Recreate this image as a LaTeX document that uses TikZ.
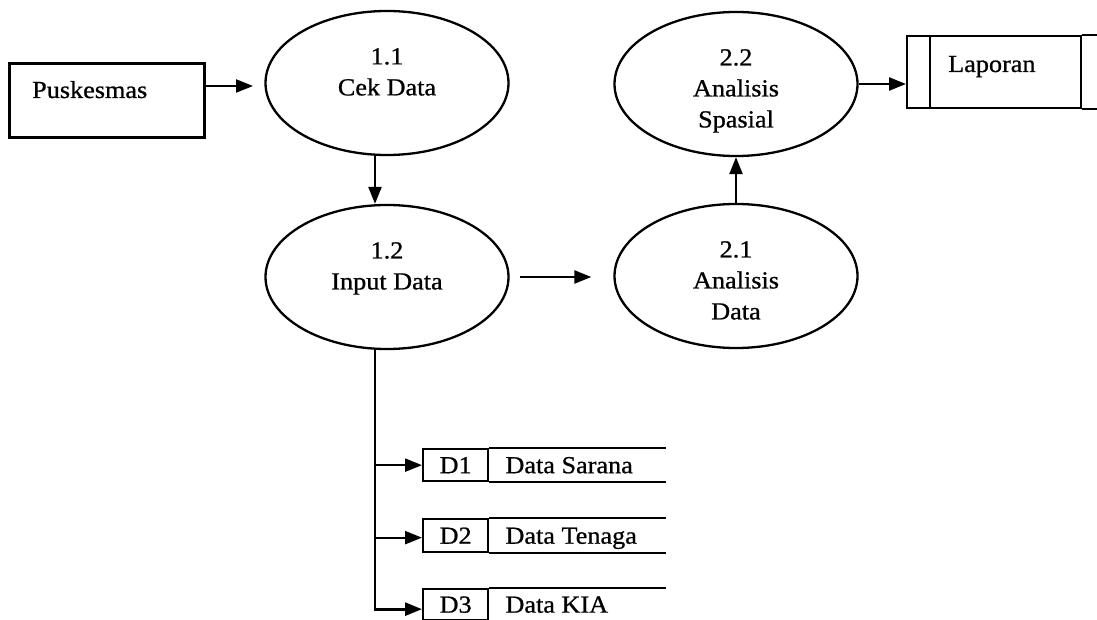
\documentclass[tikz,border=0pt]{standalone}
\usepackage{fontspec}
\setmainfont{Liberation Serif}[FakeStretch=1.07,FakeBold=0.8]
\usetikzlibrary{arrows.meta,shapes.geometric}

\begin{document}
\begin{tikzpicture}[x=1pt,y=-1pt,
  every node/.style={font=\fontsize{24.5}{31}\selectfont},
  proc/.style={draw, ellipse, line width=2.3pt, minimum width=243pt,
               minimum height=144pt, inner sep=0pt},
  ptext/.style={align=center, anchor=north, inner sep=0pt},
  plain/.style={anchor=base west, inner sep=0pt},
  flow/.style={line width=2.3pt, -{Triangle[length=17pt,width=13pt]}},
  extbox/.style={draw, line width=2.7pt, anchor=north west, inner sep=0pt},
  idcell/.style={draw, line width=2.3pt, anchor=north west, inner sep=0pt,
                 minimum width=65pt, minimum height=32pt},
  storeline/.style={line width=2.3pt}
]
\useasboundingbox (0,0) rectangle (1097,620);

% external entity
\node[extbox, minimum width=195pt, minimum height=74pt] (ext) at (8,62) {};
\node[plain] (extt) at (32,98) {Puskesmas};

% processes
\node[proc] (p11) at (387,83) {};
\node[ptext] (p11t) at ([yshift=35pt]p11.center) {1.1\\Cek Data};
\node[proc] (p12) at (387,277) {};
\node[ptext] (p12t) at ([yshift=35pt]p12.center) {1.2\\Input Data};
\node[proc] (p21) at (736,276) {};
\node[ptext] (p21t) at ([yshift=35pt]p21.center) {2.1\\Analisis\\Data};
\node[proc] (p22) at (736,84) {};
\node[ptext] (p22t) at ([yshift=35pt]p22.center) {2.2\\Analisis\\Spasial};

% output store
\node[draw, line width=2.3pt, anchor=north west, inner sep=0pt,
      minimum width=174pt, minimum height=72pt] (lap) at (906,35) {};
\draw[storeline] (lap.north east) -- ++(20,0);
\draw[storeline] (lap.south east) -- ++(20,0);
\draw[storeline] ([xshift=24pt]lap.north west) -- ([xshift=24pt]lap.south west);
\node[plain] (lapt) at (948,72) {Laporan};

% data stores
\node[idcell] (d1) at (422,448) {D1};
\node[plain] (d1n) at ([xshift=16pt]d1.base east) {Data Sarana};
\draw[storeline] (d1.north east) -- ++(177,0);
\draw[storeline] (d1.south east) -- ++(177,0);

\node[idcell, minimum height=33pt] (d2) at (422,518) {D2};
\node[plain] (d2n) at ([xshift=16pt]d2.base east) {Data Tenaga};
\draw[storeline] (d2.north east) -- ++(177,0);
\draw[storeline] (d2.south east) -- ++(177,0);

\node[idcell, minimum height=31pt] (d3) at (422,588) {D3};
\node[plain] (d3n) at ([xshift=16pt]d3.base east) {Data KIA};
\draw[storeline] (d3.north east) -- ++(177,0);
\draw[storeline] (d3.south east) -- ++(177,0);

% flows
\coordinate (a1) at (253,86);
\draw[flow] (ext.east |- a1) -- (a1);
\draw[flow] ([xshift=-12pt]p11.south) -- ([xshift=-12pt]p12.north);
\draw[flow] ([xshift=10pt]p12.east) -- ([xshift=-22pt]p21.west |- p12.east);
\draw[flow] (p21.north) -- (p22.south);
\draw[flow] (p22.east) -- (lap.west |- p22.east);

% trunk from 1.2 down to the data stores
\coordinate (trunk) at ([xshift=-12pt]p12.south);
\draw[flow, line width=2.8pt] (trunk) |- ([yshift=-4.5pt]d3.west);
\draw[flow] (trunk |- d1.west) -- (d1.west);
\coordinate (d2in) at ([yshift=-2pt]d2.west);
\draw[flow] (trunk |- d2in) -- (d2in);
\end{tikzpicture}
\end{document}
